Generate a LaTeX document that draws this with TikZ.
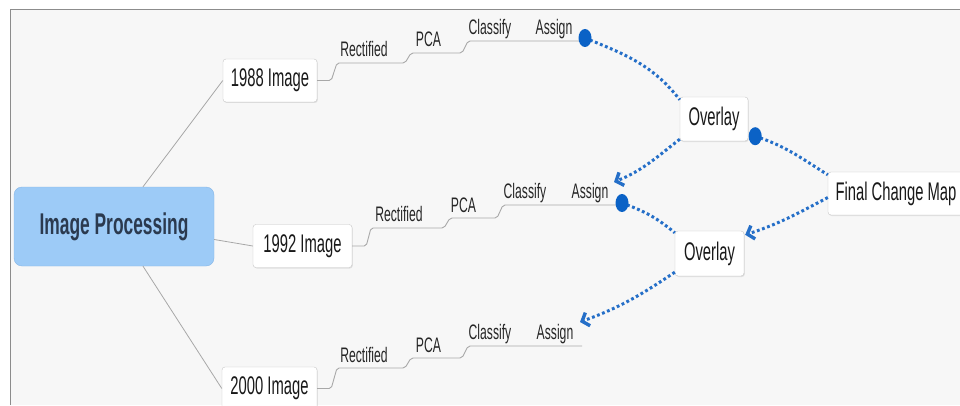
\documentclass[tikz,border=0pt]{standalone}
\usepackage{fontspec}
\setmainfont{Liberation Sans}[FakeStretch=0.58]
\usetikzlibrary{arrows.meta,shadows}

\definecolor{linkblue}{HTML}{256FC8}
\definecolor{dotblue}{HTML}{0B62C6}
\definecolor{rootblue}{HTML}{9DCBF7}
\definecolor{rootedge}{HTML}{86B6E6}
\definecolor{roottext}{HTML}{2B3A4F}
\definecolor{twig}{HTML}{A8A8A8}
\definecolor{paper}{HTML}{F7F7F7}

\tikzset{
  topic/.style={draw=black!22, fill=white, rounded corners=3pt, inner sep=0pt,
    minimum height=43pt, text=black!90, font=\fontsize{25.5}{29}\selectfont,
    drop shadow={shadow xshift=0.8pt, shadow yshift=-1pt, opacity=0.2}},
  leaf/.style={inner sep=0pt, anchor=base, text=black!85, font=\fontsize{21}{24}\selectfont},
  twigline/.style={twig, line width=0.9pt, rounded corners=2pt},
  link/.style={linkblue, line width=3pt, dash pattern=on 2.8pt off 2.6pt},
  linktip/.style={-{Straight Barb[length=6pt,width=14pt,line width=3.4pt]}},
}

\begin{document}
\begin{tikzpicture}[x=1pt,y=1pt]
\useasboundingbox (0,0) rectangle (960,405);
\clip (0,0) rectangle (960,405);
\fill[white] (0,0) rectangle (960,405);
\fill[paper] (10,0) rectangle (960,396);
\draw[black!45, line width=0.8pt] (10,0) -- (10,396) -- (960,396);

% root and the three images
\node[draw=rootedge, fill=rootblue, rounded corners=8pt, minimum width=200pt,
  minimum height=79pt, text=roottext, font=\bfseries\fontsize{30}{34}\selectfont]
  (ip) at (114,178.5) {Image Processing};
\node[topic, minimum width=94pt] (img1) at (270,324.5) {1988 Image};
\node[topic, minimum width=99pt] (img2) at (302.5,159) {1992 Image};
\node[topic, minimum width=95pt] (img3) at (269.5,16.5) {2000 Image};

\draw[twig, line width=0.8pt] ([xshift=29pt]ip.north) -- (img1.west);
\draw[twig, line width=0.8pt] ([yshift=-13pt]ip.east) -- (img2.west);
\draw[twig, line width=0.8pt] ([xshift=29pt]ip.south) -- (img3.west);

% overlays and result
\node[topic, minimum width=68pt, minimum height=44pt] (ov1) at (714,286) {Overlay};
\node[topic, minimum width=69pt, minimum height=45pt] (ov2) at (709.5,151.5) {Overlay};
\node[topic, minimum width=136pt] (fcm) at (896,211.5) {Final Change Map};

% ends of the steps
\coordinate (a1) at (585,367);
\coordinate (a2) at (622,202);
\coordinate (a3) at (580,83);
\coordinate (t2) at (614,223);
\coordinate (d3) at ([xshift=7pt,yshift=5pt]ov1.south east);

% 1988 steps
\node[leaf] (rec1) at (364,348) {Rectified};
\node[leaf] (pca1) at (428.5,358) {PCA};
\node[leaf] (cls1) at (490,370.5) {Classify};
\node[leaf] (asg1) at (554,370.5) {Assign};
\draw[twigline] (img1.east) -- ++(14,0) -- (337,342) -- (405,342) -- (411,352)
  -- (462,352) -- (468,364) -- ([xshift=-5pt,yshift=-3pt]a1);

% 1992 steps
\node[leaf] (rec2) at (399,184) {Rectified};
\node[leaf] (pca2) at (463.5,193) {PCA};
\node[leaf] (cls2) at (525,207) {Classify};
\node[leaf] (asg2) at (590,207) {Assign};
\draw[twigline] (img2.east) -- ++(14,0) -- (371,177) -- (444,177) -- (450,187)
  -- (497,187) -- (503,200) -- ([xshift=-6pt,yshift=-2pt]a2);

% 2000 steps
\node[leaf] (rec3) at (364,43) {Rectified};
\node[leaf] (pca3) at (428.5,53) {PCA};
\node[leaf] (cls3) at (490,65.5) {Classify};
\node[leaf] (asg3) at (555,65.5) {Assign};
\draw[twigline] (img3.east) -- ++(14,0) -- (337,37) -- (405,37) -- (411,47)
  -- (462,47) -- (468,59) -- ([xshift=2pt,yshift=-24pt]a3);

% dotted links
\draw[link] (a1) to[out=-22,in=128] ([yshift=-3pt]ov1.north west);
\draw[link,linktip] ([yshift=2pt]ov1.south west) to[out=218,in=22] (t2);
\draw[link] (d3) to[out=-18,in=148] ([yshift=-3pt]fcm.north west);
\draw[link] (a2) to[out=-20,in=140] ([yshift=-2pt]ov2.north west);
\draw[link,linktip] ([yshift=-4pt]fcm.west) to[out=208,in=18] ([xshift=1pt,yshift=-4pt]ov2.north east);
\draw[link,linktip] ([yshift=4pt]ov2.south west) to[out=214,in=20] (a3);

\fill[dotblue] (a1) ellipse[x radius=6.5pt, y radius=9pt];
\fill[dotblue] (a2) ellipse[x radius=6.5pt, y radius=9pt];
\fill[dotblue] (d3) ellipse[x radius=6.5pt, y radius=9pt];
\end{tikzpicture}
\end{document}
